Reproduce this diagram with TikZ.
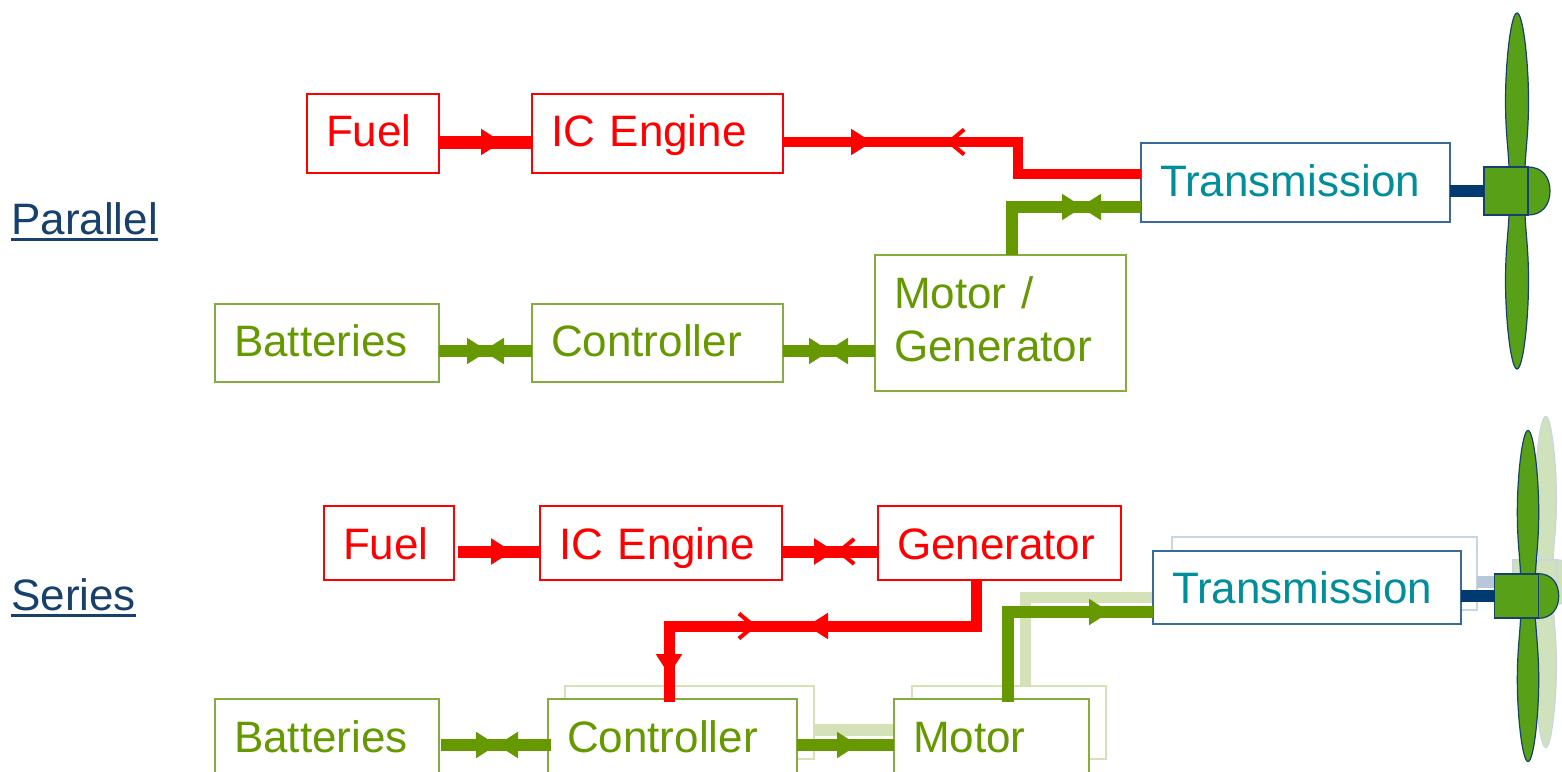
\documentclass[tikz,border=0pt]{standalone}
\usepackage{fontspec}
\setmainfont{Liberation Sans}
\usetikzlibrary{arrows.meta,decorations.markings}
\definecolor{fuelred}{HTML}{FF0000}
\definecolor{elecgreen}{HTML}{669900}
\definecolor{boxgreen}{HTML}{85AD3D}
\definecolor{transteal}{HTML}{008E9A}
\definecolor{navy}{HTML}{17406D}
\definecolor{shaftnavy}{HTML}{003A70}
\definecolor{boxnavy}{HTML}{3A6A9A}
\definecolor{leaf}{HTML}{58A018}
\definecolor{ghostgreen}{HTML}{D5E2B8}
\definecolor{ghostleaf}{HTML}{CFE2BC}
\definecolor{ghostnavy}{HTML}{C8D6E4}
\definecolor{ghostshaft}{HTML}{B8C8DA}
\newcommand{\labelline}[1]{\setbox0\hbox{#1}\rlap{\rule[-7pt]{\wd0}{3pt}}\box0}
\tikzset{
	blockbox/.style n args={2}{draw, fill=white, rectangle, anchor=north west, outer sep=0pt, inner ysep=0pt, inner xsep=19pt, align=left, text width={(#1-38)*1pt}, minimum height=#2*1pt},
	oneline/.style={text height=32pt, text depth=#1},
	oneline/.default=0pt,
	redbox/.style={draw=fuelred, text=fuelred, line width=1.2pt, oneline},
	greenbox/.style={draw=boxgreen, text=elecgreen, line width=1.2pt},
	transbox/.style={draw=boxnavy, text=transteal, line width=1.5pt, oneline},
	ghostbox/.style={draw=ghostgreen, line width=1.5pt},
	hubbox/.style={draw=navy, fill=leaf, rectangle, outer sep=0pt, inner sep=0pt, line width=1.2pt, minimum width=44pt, minimum height=#1*1pt},
	ghosthub/.style={hubbox=44, draw=ghostnavy, fill=ghostleaf},
	redline/.style={draw=fuelred, line width=10.5pt},
	greenline/.style={draw=elecgreen, line width=11.5pt},
	tipfwd/.style={postaction={decorate, decoration={markings, mark=at position #1*1pt with {\arrow{Triangle[length=21pt,width=25pt]}}}}},
	tipback/.style={postaction={decorate, decoration={markings, mark=at position #1*1pt with {\arrowreversed{Triangle[length=21pt,width=25pt]}}}}},
	openback/.style={postaction={decorate, decoration={markings, mark=at position #1*1pt with {\arrowreversed{Straight Barb[length=15pt,width=25pt,line width=4pt]}}}}},
	pics/propeller/.style 2 args={code={
		\foreach \s in {1,-1}
			\path[draw=#1, fill=#2, line width=1.2pt, yscale=\s] (-8,-24) .. controls (-9,-45) and (-11.5,-60) .. (-11.5,-90) .. controls (-11.5,-130) and (-6,-178) .. (0,-178) .. controls (6,-178) and (11.5,-130) .. (11.5,-90) .. controls (11.5,-60) and (9,-45) .. (8,-24) -- cycle;
		\path[draw=#1, fill=#2, line width=1.2pt] (11,-24) .. controls (25,-24) and (33,-14) .. (33,0) .. controls (33,14) and (25,24) .. (11,24) -- cycle;
	}},
}
\begin{document}
\begin{tikzpicture}[x=1pt, y=-1pt, line join=miter, font=\fontsize{44}{53}\selectfont]
	\useasboundingbox (0,0) rectangle (1562,771);
	\clip (0,0) rectangle (1562,771);
	% left labels
	\node (labelP) at (11,234) [anchor=base west, inner sep=0pt, text=navy] {\labelline{Parallel}};
	\node (labelS) at (11,610) [anchor=base west, inner sep=0pt, text=navy] {\labelline{Series}};
	% parallel blocks
	\node (fuelP) at (307,94) [blockbox={132}{79}, redbox, oneline=7pt] {Fuel};
	\node (engineP) at (532,94) [blockbox={251}{79}, redbox, oneline=7pt] {IC Engine};
	\node (transP) at (1141,143) [blockbox={309}{79}, transbox, oneline=4pt] {Transmission};
	\node (batP) at (215,304) [blockbox={224}{78}, greenbox, oneline=6pt] {Batteries};
	\node (ctrlP) at (532,304) [blockbox={251}{78}, greenbox, oneline=6pt] {Controller};
	\node (motorP) at (875,255) [blockbox={251}{136}, greenbox, text height=32pt, text depth=62pt] {Motor /\\Generator};
	\pic at (1517,191) {propeller={navy}{leaf}};
	\node (hubP) at (1506,191) [hubbox=48] {};
	\coordinate (bendR) at (1018,174);
	\coordinate (bendG) at (1012,207);
	\draw[fuelred, line width=13pt, tipfwd=63] ([yshift=-8.5pt]fuelP.east) -- ([yshift=-8.5pt]engineP.west);
	\draw[redline, tipfwd=89, openback=163] ([yshift=-8.5pt]engineP.east) -| (bendR) -- (bendR -| transP.west);
	\draw[greenline, tipfwd=119, tipback=116] (motorP.north -| bendG) |- (transP.west |- bendG);
	\draw[greenline, tipfwd=49, tipback=44] (batP.east |- 0,351) -- (ctrlP.west |- 0,351);
	\draw[greenline, tipfwd=47, tipback=44] (ctrlP.east |- 0,351) -- (motorP.west |- 0,351);
	\draw[shaftnavy, line width=12pt] (transP.east |- hubP.west) -- (hubP.west);
	% series, faded layer
	\node (ctrlGhost) at (565,686) [blockbox={249}{73}, ghostbox] {};
	\node (motorGhost) at (912,686) [blockbox={194}{73}, ghostbox] {};
	\node (transGhost) at (1172,537) [blockbox={305}{73}, draw=ghostnavy, line width=1.5pt] {};
	\pic at (1545.7,582) [scale=.93] {propeller={ghostnavy}{ghostleaf}};
	\node (hubGhost) at (1535,582) [ghosthub] {};
	\coordinate (bendGhost) at (1025,597);
	\draw[ghostgreen, line width=12pt] (ctrlGhost.east |- 0,730) -- (894,730);
	\draw[ghostgreen, line width=11pt] (motorGhost.north -| bendGhost) |- (1153,597);
	\draw[ghostshaft, line width=12pt] (transGhost.east |- hubGhost.west) -- (hubGhost.west);
	% series blocks
	\node (fuelS) at (324,506) [blockbox={130}{74}, redbox] {Fuel};
	\node (engineS) at (540,506) [blockbox={242}{74}, redbox] {IC Engine};
	\node (genS) at (878,506) [blockbox={243}{74}, redbox] {Generator};
	\node (transS) at (1153,551) [blockbox={308}{73}, transbox] {Transmission};
	\node (batS) at (215,699) [blockbox={224}{75}, greenbox, oneline] {Batteries};
	\node (ctrlS) at (548,699) [blockbox={249}{75}, greenbox, oneline] {Controller};
	\node (motorS) at (894,699) [blockbox={195}{75}, greenbox, oneline] {Motor};
	\pic at (1528,596) [scale=.93] {propeller={navy}{leaf}};
	\node (hubS) at (1516.5,596) [hubbox=44] {};
	\coordinate (gapS) at (458,551.5);
	\coordinate (gapB) at (441,745);
	\coordinate (bendT) at (976,626);
	\coordinate (bendM) at (1008,612);
	\draw[fuelred, line width=12pt, tipfwd=54] (gapS) -- (engineS.west |- gapS);
	\draw[fuelred, line width=12pt, tipfwd=53, openback=54] (engineS.east |- gapS) -- (genS.west |- gapS);
	\draw[fuelred, line width=11pt, tipfwd=215, openback=265, tipfwd=402] (genS.south -| bendT) |- (669,626) -- (669,702);
	\draw[greenline, tipfwd=56, tipback=56] (gapB) -- (551,745);
	\draw[greenline, tipfwd=61] (ctrlS.east |- gapB) -- (motorS.west |- gapB);
	\draw[greenline, tipfwd=192] (1008,702) |- (transS.west |- bendM);
	\draw[shaftnavy, line width=12pt] (transS.east |- hubS.west) -- (hubS.west);
\end{tikzpicture}
\end{document}
